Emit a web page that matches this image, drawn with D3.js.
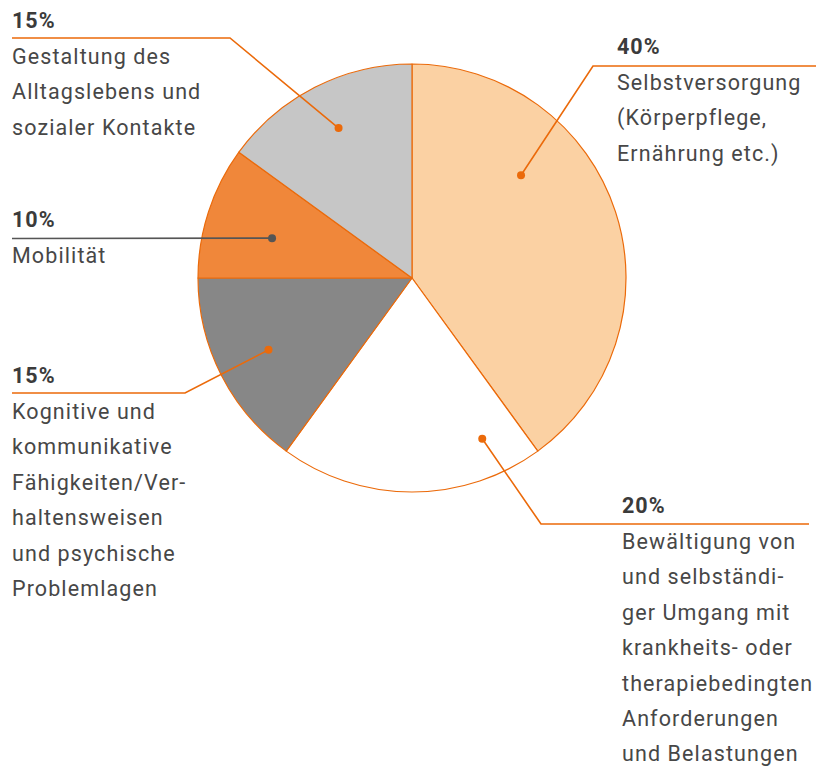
<!DOCTYPE html>
<html>
<head>
    <meta charset="utf-8">
    <title>Pflegegrad Module</title>
    <script src="https://d3js.org/d3.v7.min.js"></script>
    <style>
        body {
            margin: 0;
            padding: 0;
            background-color: #ffffff;
            font-family: Roboto, "Open Sans", sans-serif;
        }
        .pct {
            font-weight: bold;
            font-size: 21.5px;
            fill: #3b3b3b;
            letter-spacing: 1px;
        }
        .desc {
            font-size: 21.5px;
            fill: #474747;
            letter-spacing: 1.1px;
        }
        .leader {
            fill: none;
            stroke-width: 1.6;
        }
    </style>
</head>
<body>
    <div id="chart"></div>

    <script>
        // data, clockwise from 12 o'clock
        var categories = [
            "Selbstversorgung",
            "Bewältigung",
            "Kognitive",
            "Mobilität",
            "Gestaltung"
        ];
        var values = [40, 20, 15, 10, 15];
        var percentLabels = ["40%", "20%", "15%", "10%", "15%"];
        var textLines = [
            ["Selbstversorgung", "(Körperpflege,", "Ernährung etc.)"],
            ["Bewältigung von", "und selbständi-", "ger Umgang mit", "krankheits- oder", "therapiebedingten", "Anforderungen", "und Belastungen"],
            ["Kognitive und", "kommunikative", "Fähigkeiten/Ver-", "haltensweisen", "und psychische", "Problemlagen"],
            ["Mobilität"],
            ["Gestaltung des", "Alltagslebens und", "sozialer Kontakte"]
        ];
        var fills = ["#fbd1a3", "#ffffff", "#878787", "#f0873a", "#c6c6c6"];
        // where the leader dot sits inside each slice: angle in degrees, fraction of radius
        var dotAngle = [46.7, 156.4, 243.4, 285.9, 333.9];
        var dotRadius = [0.70, 0.82, 0.75, 0.68, 0.78];

        var width = 816, height = 766;
        var orange = "#eb6a0a";
        var cx = 412, cy = 278, radius = 214;

        // label layout: text x, first baseline, leader y, leader x range, elbow side
        var layout = [
            { x: 617, y: 54, ly: 66, lx0: 593, lx1: 816, elbow: "left" },
            { x: 622, y: 513, ly: 524, lx0: 541, lx1: 809, elbow: "left" },
            { x: 12, y: 383, ly: 393, lx0: 12, lx1: 185, elbow: "right" },
            { x: 12, y: 227, ly: 238.5, lx0: 12, lx1: null, elbow: "dot" },
            { x: 12, y: 28, ly: 38, lx0: 12, lx1: 230, elbow: "right" }
        ];
        var lineGap = 35.4;

        var svg = d3.select("#chart")
            .append("svg")
            .attr("width", width)
            .attr("height", height);

        var pie = d3.pie().sort(null).value(function(d) { return d; });
        var arc = d3.arc().innerRadius(0).outerRadius(radius);
        var arcs = pie(values);

        var g = svg.append("g")
            .attr("transform", "translate(" + cx + "," + cy + ")");

        g.selectAll("path.slice")
            .data(arcs)
            .enter().append("path")
            .attr("class", "slice")
            .attr("d", arc)
            .attr("fill", function(d, i) { return fills[i]; })
            .attr("stroke", orange)
            .attr("stroke-width", 1.2)
            .attr("stroke-linejoin", "round");

        // dot positions from the angle/radius scales
        var angleScale = d3.scaleLinear().domain([0, 360]).range([0, 2 * Math.PI]);
        var radScale = d3.scaleLinear().domain([0, 1]).range([0, radius]);
        function dotPos(i) {
            var a = angleScale(dotAngle[i]);
            var r = radScale(dotRadius[i]);
            return [cx + r * Math.sin(a), cy - r * Math.cos(a)];
        }

        categories.forEach(function(c, i) {
            var L = layout[i];
            var p = dotPos(i);
            var col = c === "Mobilität" ? "#555555" : orange;
            var pts;
            if (L.elbow === "left") {
                pts = [[L.lx1, L.ly], [L.lx0, L.ly], p];
            } else if (L.elbow === "right") {
                pts = [[L.lx0, L.ly], [L.lx1, L.ly], p];
            } else {
                pts = [[L.lx0, L.ly], p];
            }
            svg.append("path")
                .attr("class", "leader")
                .attr("d", d3.line()(pts))
                .attr("stroke", col);
            svg.append("circle")
                .attr("cx", p[0])
                .attr("cy", p[1])
                .attr("r", 4)
                .attr("fill", col);

            svg.append("text")
                .attr("class", "pct")
                .attr("x", L.x)
                .attr("y", L.y)
                .text(percentLabels[i]);

            var t = svg.append("text")
                .attr("class", "desc")
                .attr("x", L.x)
                .attr("y", L.y + 36);
            textLines[i].forEach(function(s, k) {
                t.append("tspan")
                    .attr("x", L.x)
                    .attr("y", L.y + 36 + k * lineGap)
                    .text(s);
            });
        });
    </script>
</body>
</html>
